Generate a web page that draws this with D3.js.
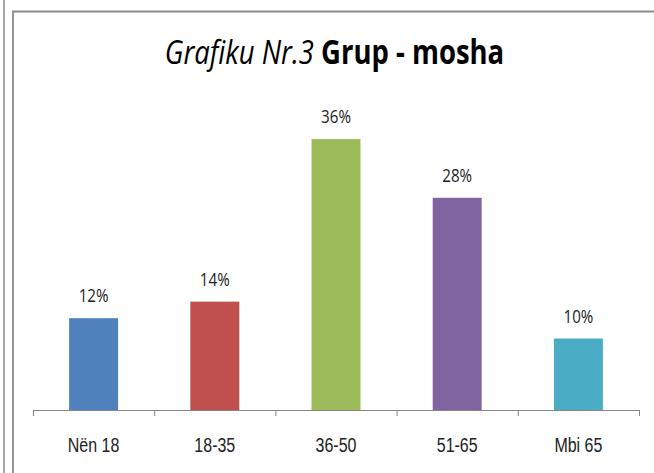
<!DOCTYPE html>
<html>
<head>
<meta charset="utf-8">
<script src="https://cdn.jsdelivr.net/npm/d3@7"></script>
<style>
  body { margin: 0; background: #fff; }
  svg { display: block; font-family: "Open Sans", "Noto Sans", sans-serif; }
</style>
</head>
<body>
<div id="chart"></div>
<script>
// data
var categories = ["Nën 18", "18-35", "36-50", "51-65", "Mbi 65"];
var values = [12.2, 14.4, 36.0, 28.2, 9.5];   // percent
var colors = ["#4F81BD", "#C0504D", "#9BBB59", "#8064A2", "#4BACC6"];
var yMax = 40;

var W = 654, H = 473;
var plot = {left: 33, right: 639, top: 109, bottom: 410};
var sx = 0.82;   // the original text is narrow (Calibri-like), squeeze it horizontally

var svg = d3.select("#chart").append("svg")
  .attr("width", W)
  .attr("height", H);

svg.append("rect").attr("width", W).attr("height", H).attr("fill", "#fff");

// frame lines (page borders around the chart)
svg.append("line").attr("x1", 4).attr("x2", 4).attr("y1", 0).attr("y2", H)
  .attr("stroke", "#8a8a8a").attr("stroke-width", 1.5);
svg.append("path").attr("d", `M13,${H} V11.5 H${W}`)
  .attr("fill", "none").attr("stroke", "#8a8a8a").attr("stroke-width", 1.8);

// scales
var x = d3.scaleBand()
  .domain(categories)
  .range([plot.left, plot.right])
  .paddingInner(0.596)
  .paddingOuter(0.298);

var y = d3.scaleLinear()
  .domain([0, yMax])
  .range([plot.bottom, plot.top]);

// bars
svg.selectAll(".bar")
  .data(values)
  .enter()
  .append("rect")
  .attr("class", "bar")
  .attr("x", (d, i) => x(categories[i]))
  .attr("y", d => y(d))
  .attr("width", x.bandwidth())
  .attr("height", d => plot.bottom - y(d))
  .attr("fill", (d, i) => colors[i]);

// data labels
svg.selectAll(".lbl")
  .data(values)
  .enter()
  .append("text")
  .attr("class", "lbl")
  .attr("transform", (d, i) => `translate(${x(categories[i]) + x.bandwidth() / 2},${y(d) - 16}) scale(${sx},1)`)
  .attr("text-anchor", "middle")
  .style("font-size", "18.5px")
  .style("fill", "#222")
  .text(d => Math.round(d) + "%");

// x axis: line + ticks between categories (Excel style)
var edges = d3.scaleLinear().domain([0, categories.length]).range([plot.left, plot.right]);
var tickAxis = svg.append("g")
  .attr("transform", `translate(0,${plot.bottom})`)
  .call(d3.axisBottom(edges).tickValues(d3.range(categories.length + 1)).tickSize(6).tickSizeOuter(0).tickFormat(""));
tickAxis.selectAll("line, path").attr("stroke", "#868686");

// category labels
var labAxis = svg.append("g")
  .attr("transform", `translate(0,${plot.bottom})`)
  .call(d3.axisBottom(x).tickSize(0));
labAxis.select(".domain").remove();
labAxis.selectAll("text")
  .attr("y", null)
  .attr("dy", null)
  .attr("transform", `translate(0,42) scale(${sx},1)`)
  .style("font-family", "inherit")
  .style("font-size", "19.5px")
  .style("fill", "#222");

// title
var title = svg.append("text")
  .attr("transform", `translate(334.5,64) scale(${sx},1)`)
  .attr("text-anchor", "middle")
  .style("font-size", "33.5px")
  .style("fill", "#000");
title.append("tspan").style("font-style", "italic").text("Grafiku Nr.3 ");
title.append("tspan").style("font-weight", "bold").text("Grup - mosha");
</script>
</body>
</html>
